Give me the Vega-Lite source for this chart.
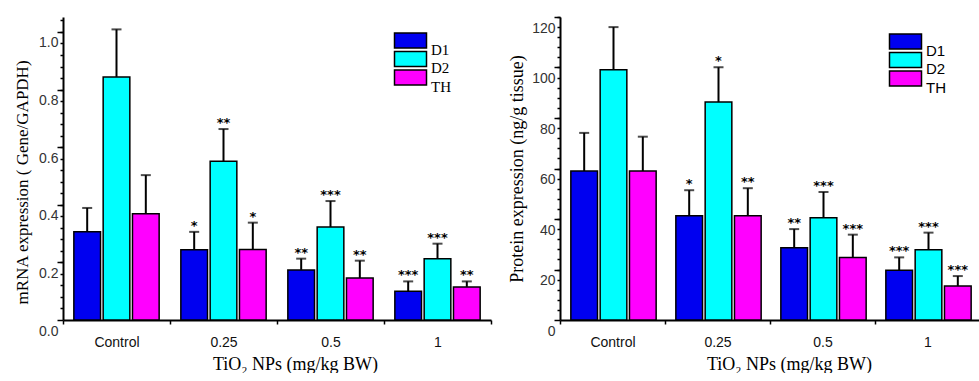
{
  "$schema": "https://vega.github.io/schema/vega-lite/v6.json",
  "background": "white",
  "padding": {"left": 13, "top": 15, "right": 0, "bottom": 0},
  "spacing": 16,
  "config": {
    "view": {"stroke": null},
    "axis": {"grid": false, "tickColor": "black", "domainColor": "black", "titleFontWeight": "normal"}
  },
  "datasets": {
    "mrna": [
      {"dose": "Control", "gene": "D1", "value": 0.306, "err": 0.389, "sig": ""},
      {"dose": "Control", "gene": "D2", "value": 0.844, "err": 1.009, "sig": ""},
      {"dose": "Control", "gene": "TH", "value": 0.369, "err": 0.503, "sig": ""},
      {"dose": "0.25", "gene": "D1", "value": 0.244, "err": 0.306, "sig": "*"},
      {"dose": "0.25", "gene": "D2", "value": 0.551, "err": 0.663, "sig": "**"},
      {"dose": "0.25", "gene": "TH", "value": 0.245, "err": 0.338, "sig": "*"},
      {"dose": "0.5", "gene": "D1", "value": 0.174, "err": 0.213, "sig": "**"},
      {"dose": "0.5", "gene": "D2", "value": 0.323, "err": 0.413, "sig": "***"},
      {"dose": "0.5", "gene": "TH", "value": 0.146, "err": 0.206, "sig": "**"},
      {"dose": "1", "gene": "D1", "value": 0.100, "err": 0.134, "sig": "***"},
      {"dose": "1", "gene": "D2", "value": 0.213, "err": 0.265, "sig": "***"},
      {"dose": "1", "gene": "TH", "value": 0.115, "err": 0.134, "sig": "**"}
    ],
    "protein": [
      {"dose": "Control", "gene": "D1", "value": 59.0, "err": 74.1, "sig": ""},
      {"dose": "Control", "gene": "D2", "value": 99.1, "err": 116.0, "sig": ""},
      {"dose": "Control", "gene": "TH", "value": 59.0, "err": 72.6, "sig": ""},
      {"dose": "0.25", "gene": "D1", "value": 41.3, "err": 51.4, "sig": "*"},
      {"dose": "0.25", "gene": "D2", "value": 86.3, "err": 100.1, "sig": "*"},
      {"dose": "0.25", "gene": "TH", "value": 41.3, "err": 52.2, "sig": "**"},
      {"dose": "0.5", "gene": "D1", "value": 28.6, "err": 36.0, "sig": "**"},
      {"dose": "0.5", "gene": "D2", "value": 40.5, "err": 50.7, "sig": "***"},
      {"dose": "0.5", "gene": "TH", "value": 24.8, "err": 33.8, "sig": "***"},
      {"dose": "1", "gene": "D1", "value": 19.7, "err": 24.8, "sig": "***"},
      {"dose": "1", "gene": "D2", "value": 27.8, "err": 34.6, "sig": "***"},
      {"dose": "1", "gene": "TH", "value": 13.5, "err": 17.4, "sig": "***"}
    ]
  },
  "hconcat": [
    {
      "width": 428,
      "height": 303,
      "data": {"name": "mrna"},
      "encoding": {
        "x": {
          "field": "dose", "type": "nominal", "sort": ["Control", "0.25", "0.5", "1"],
          "scale": {"paddingInner": 0, "paddingOuter": 0},
          "axis": {
            "tickBand": "extent", "tickSize": 4, "tickWidth": 1.5, "domainWidth": 2,
            "labelAngle": 0, "labelFont": "Liberation Sans", "labelFontSize": 14, "labelColor": "#111",
            "labelPadding": 11, "title": "TiO₂ NPs (mg/kg BW)", "titleFont": "Liberation Serif",
            "titleFontSize": 18, "titlePadding": 6, "titleX": 232
          }
        },
        "xOffset": {"field": "gene", "type": "nominal", "sort": ["D1", "D2", "TH"], "scale": {"paddingInner": 0.09, "paddingOuter": 0.37}}
      },
      "layer": [
        {
          "mark": {"type": "bar", "stroke": "black", "strokeWidth": 1.5},
          "encoding": {
            "y": {
              "field": "value", "type": "quantitative",
              "scale": {"domain": [0, 1.052], "nice": false},
              "axis": {
                "orient": "left", "values": [0, 0.2, 0.4, 0.6, 0.8, 1.0], "format": ".1f",
                "tickSize": 6, "tickWidth": 1.5, "domainWidth": 2,
                "labelFont": "Liberation Sans", "labelFontSize": 14, "labelColor": "#333",
                "labelOffset": 11, "labelPadding": -1,
                "title": "mRNA expression ( Gene/GAPDH)", "titleFont": "Liberation Serif",
                "titleFontSize": 17, "titlePadding": 7, "titleY": 165
              }
            },
            "color": {
              "field": "gene", "type": "nominal",
              "scale": {"domain": ["D1", "D2", "TH"], "range": ["#0000F0", "#00FFFF", "#FF00FF"]},
              "legend": {
                "orient": "none", "legendX": 340, "legendY": 25, "title": null,
                "symbolType": "M-4,-4.125H4V-0.375H-4Z", "symbolSize": 64,
                "symbolStrokeColor": "black", "symbolStrokeWidth": 1.5,
                "labelFont": "Liberation Serif", "labelFontSize": 15, "labelColor": "black",
                "labelOffset": 13, "rowPadding": -9.5
              }
            }
          }
        },
        {
          "mark": {"type": "rule", "strokeWidth": 2, "color": "black"},
          "encoding": {
            "y": {
              "field": "value", "type": "quantitative",
              "axis": {
                "orient": "left", "labels": false, "domain": false, "title": null,
                "tickSize": 3, "tickWidth": 1.5,
                "values": [0.04, 0.08, 0.12, 0.16, 0.2, 0.24, 0.28, 0.32, 0.36, 0.4, 0.44, 0.48, 0.52, 0.56, 0.6, 0.64, 0.68, 0.72, 0.76, 0.8, 0.84, 0.88, 0.92, 0.96, 1.0, 1.04]
              }
            },
            "y2": {"field": "err"}
          }
        },
        {
          "mark": {"type": "tick", "thickness": 2, "size": 10, "color": "black"},
          "encoding": {"y": {"field": "err", "type": "quantitative", "axis": null}}
        },
        {
          "mark": {"type": "text", "font": "DejaVu Sans", "fontWeight": "bold", "fontSize": 13, "baseline": "alphabetic", "dy": -2, "color": "black"},
          "encoding": {"y": {"field": "err", "type": "quantitative", "axis": null}, "text": {"field": "sig"}}
        }
      ],
      "resolve": {"axis": {"y": "independent"}}
    },
    {
      "width": 420,
      "height": 303,
      "data": {"name": "protein"},
      "encoding": {
        "x": {
          "field": "dose", "type": "nominal", "sort": ["Control", "0.25", "0.5", "1"],
          "scale": {"paddingInner": 0, "paddingOuter": 0},
          "axis": {
            "tickBand": "extent", "tickSize": 4, "tickWidth": 1.5, "domainWidth": 2,
            "labelAngle": 0, "labelFont": "Liberation Sans", "labelFontSize": 14, "labelColor": "#111",
            "labelPadding": 11, "title": "TiO₂ NPs (mg/kg BW)", "titleFont": "Liberation Serif",
            "titleFontSize": 18, "titlePadding": 6, "titleX": 229
          }
        },
        "xOffset": {"field": "gene", "type": "nominal", "sort": ["D1", "D2", "TH"], "scale": {"paddingInner": 0.09, "paddingOuter": 0.37}}
      },
      "layer": [
        {
          "mark": {"type": "bar", "stroke": "black", "strokeWidth": 1.5},
          "encoding": {
            "y": {
              "field": "value", "type": "quantitative",
              "scale": {"domain": [0, 120], "nice": false},
              "axis": {
                "orient": "left", "values": [0, 20, 40, 60, 80, 100, 120], "format": "d",
                "tickSize": 6, "tickWidth": 1.5, "domainWidth": 2,
                "labelFont": "Liberation Sans", "labelFontSize": 14, "labelColor": "#333",
                "labelOffset": 11, "labelPadding": -1,
                "title": "Protein expression (ng/g tissue)", "titleFont": "Liberation Serif",
                "titleFontSize": 18, "titlePadding": 5
              }
            },
            "color": {
              "field": "gene", "type": "nominal",
              "scale": {"domain": ["D1", "D2", "TH"], "range": ["#0000F0", "#00FFFF", "#FF00FF"]},
              "legend": {
                "orient": "none", "legendX": 338, "legendY": 26, "title": null,
                "symbolType": "M-4,-4.125H4V-0.375H-4Z", "symbolSize": 64,
                "symbolStrokeColor": "black", "symbolStrokeWidth": 1.5,
                "labelFont": "Liberation Sans", "labelFontSize": 15, "labelColor": "black",
                "labelOffset": 13, "rowPadding": -9.5
              }
            }
          }
        },
        {
          "mark": {"type": "rule", "strokeWidth": 2, "color": "black"},
          "encoding": {
            "y": {
              "field": "value", "type": "quantitative",
              "axis": {
                "orient": "left", "labels": false, "domain": false, "title": null,
                "tickSize": 3, "tickWidth": 1.5,
                "values": [4, 8, 12, 16, 20, 24, 28, 32, 36, 40, 44, 48, 52, 56, 60, 64, 68, 72, 76, 80, 84, 88, 92, 96, 100, 104, 108, 112, 116, 120]
              }
            },
            "y2": {"field": "err"}
          }
        },
        {
          "mark": {"type": "tick", "thickness": 2, "size": 10, "color": "black"},
          "encoding": {"y": {"field": "err", "type": "quantitative", "axis": null}}
        },
        {
          "mark": {"type": "text", "font": "DejaVu Sans", "fontWeight": "bold", "fontSize": 13, "baseline": "alphabetic", "dy": -2, "color": "black"},
          "encoding": {"y": {"field": "err", "type": "quantitative", "axis": null}, "text": {"field": "sig"}}
        }
      ],
      "resolve": {"axis": {"y": "independent"}}
    }
  ],
  "resolve": {"scale": {"color": "independent"}, "legend": {"color": "independent"}}
}
